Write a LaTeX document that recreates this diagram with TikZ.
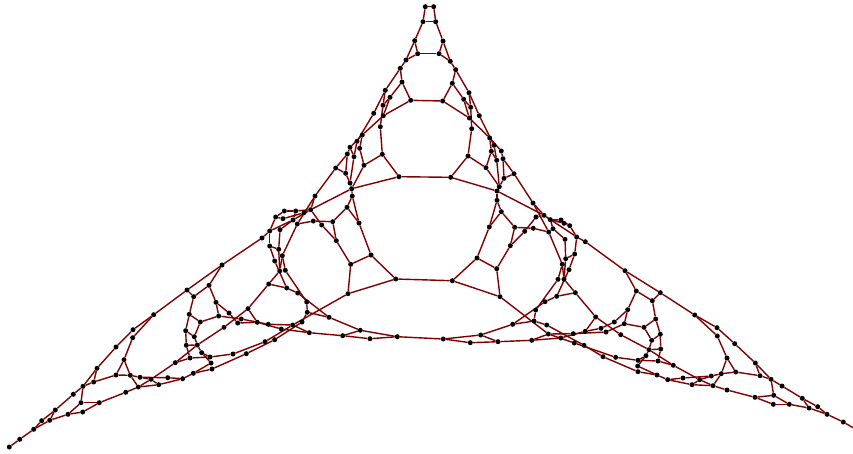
\documentclass[tikz,border=0pt]{standalone}
\pgfdeclarelayer{edgelayer}
\pgfsetlayers{edgelayer,main}
\definecolor{edgered}{RGB}{128,0,0}
\tikzset{pt/.style={circle,fill=black,draw=none,inner sep=0pt,minimum size=5pt},
 link/.style={draw=edgered,line width=1.4pt}}
\begin{document}
\begin{tikzpicture}[x=1pt,y=-1pt]
\useasboundingbox (0,0) rectangle (853,453);
\foreach \n/\x/\y in {t1/425.3/6.7,t2/433.7/6.7,t3/423/21.7,t4/435.7/21.7,t5/414.7/40.7,t6/443/41,t7/417.7/53.7,t8/439/53.7,t9/406/60,t10/450.3/61.3,t11/400.3/68.3,t12/455.7/69.7,t13/402/82,t14/452.3/83.3,t15/410.7/100.3,t16/442.7/101,t17/385.3/90.3,t18/469/92.7,t19/390/97.3,t20/463.7/99.3,t21/383/105.3,t22/470.7/107.3,t23/373.7/113.3,t24/479.3/115.7,t25/383.3/115.7,t26/469.3/118,t27/380.3/126.7,t28/471.7/128.7,t29/362.3/135,t30/489.7/138,t31/357/141.3,t32/494/145.3,t33/350/147.3,t34/359.7/148.3,t35/501.3/151,t36/491.3/151.3,t37/347.3/154,t38/354/156.7,t39/382.3/154.3,t40/468/156,t41/496.7/160.3,t42/503/158.7,t43/364/165.3,t44/486/167.7,t45/335.7/168,t46/345.7/173.3,t47/514/173.7,t48/504/178.3,t49/399/176.7,t50/450.7/177.3,t51/350/183,t52/351.7/188.7,t54/499.3/186.7,
a1/315/196,a2/352.3/196,a3/347/207.3,a4/359/223,a5/310.7/209.7,a6/304/212.7,a7/295.7/211,a8/284.3/211,a9/275.7/217,a10/283/218.7,a11/293/220,a12/297.3/224,a13/313.3/221,a14/321.7/225,a15/332.7/221.7,a16/269.7/231,a17/280/229.7,a18/262/238,a19/336.3/240.7,a20/269.7/246,a21/278.7/249.3,a22/282.3/255.7,a23/274.7/261,a24/371/255,a25/350.7/264.3,a26/279.7/271,a27/285.3/270.3,a28/395.7/279,a29/268.7/284,a30/286.7/288,a31/348/293.7,a32/297.7/293,a33/306.7/302,a34/307.3/312.3,a35/329/317.3,a36/302/322,a37/292.7/325,a38/257.3/322.3,a39/268.3/324.3,a40/281.3/329,a41/360.3/330.3,a42/309.3/332.7,a43/342.7/335.7,a44/397.3/336.7,a45/370/338.7,a46/274.7/339.7,a47/265/341.7,
b1/497/191,b2/497/200.3,b3/501.3/211.7,b4/489.3/227,b5/533/203,b6/536/217,b7/544/215.3,b8/550.3/219.7,b9/561/220,b10/564/223.3,b11/569.7/225.7,b12/553/228.7,b13/548.7/232,b14/533.3/228.3,b15/524.7/231.3,b16/514.7/227.3,b17/510.3/245.7,b18/565/239.3,b19/576.7/237,b20/585.3/241.7,b21/574.7/254,b22/565.7/258.7,b23/562.3/264.3,b24/477/258,b25/496.7/268.7,b26/569/269.7,b27/558/279.3,b28/564/279.3,b29/452.3/280.7,b30/575.3/292.7,b31/556.7/296.3,b32/500/296.7,b33/545/301.7,b34/535.7/310,b35/595.7/317,b36/534/321,b37/512.7/324.3,b38/546.7/325,b39/601/328.3,b40/606/332,b41/585.3/331.3,b42/573.3/333.7,b43/548.3/334,b44/480.7/335,b45/560.7/338,b46/531.7/340.3,b47/498/341.7,b48/443.3/339,b49/470.3/342.7,b50/574.3/343,b51/584/345.3,
c1/209/285.3,c2/187/290,c3/193.7/296.7,c4/216/302.3,c5/153.7/314.7,c6/189.3/314.3,c7/218.7/316,c8/200.3/322,c9/229/313,c10/248/308.7,c11/241.3/319,c12/237.7/323,c13/224/327.3,c14/185.7/330.7,c15/194.3/336.7,c16/186.3/345.3,c17/197.3/345,c18/201.7/352.7,c19/190/358,c20/210/357,c21/233/354,c22/246.3/353.7,c23/211/363,c24/175.3/362.7,c25/212/369,c26/193.3/373.3,c27/167.7/377.7,c28/182.7/378.7,c29/151/379.3,c30/140/377.3,c31/130.3/375.3,c32/158.7/384.7,c33/138.3/387,c34/133/329.7,c35/132.7/337.7,g1/222/265,
d1/9.3/447,d2/19.7/439.3,d3/33.7/429.3,d4/41.7/420.7,d5/49.7/420.3,d6/55.3/410,d7/68/414.3,d8/82.7/412,d9/81/402.7,d10/99.3/402.7,d11/73.3/394.3,d12/83/386.3,d13/93.7/382,d14/97/368.3,d15/116/375,d16/124/359.7,d17/116/347,d18/125.7/392.3,
e1/625/270.7,e2/636.3/291,e3/660.3/292.7,e4/652.3/300.7,e5/694.7/315,e6/627.7/309.7,e7/655.7/319,e8/614.3/322,e9/624.3/323.7,e10/644/327.3,e11/717/327.7,e12/660.3/334.3,e13/620.7/334.7,e14/717.3/336,e15/651.7/340.3,e16/649/349.7,e17/660.7/349,e18/727/358,e19/646/355.7,e20/603/356.7,e21/615.7/357.3,e22/638/360.3,e23/658/361,e24/637.7/366,e25/673.3/365.3,e26/638/371.7,e27/721.3/373.7,e28/711.3/376,e29/657/375,e30/683/378,e31/699.7/379.7,e32/667.7/379.7,e33/692/384.7,e34/713/385.7,e35/727/390,
f1/734.7/343.7,f2/755.3/363,f3/735.7/372,f4/760/375.7,f5/771/379.3,f6/782/386,f7/773.7/395.3,f8/755/397.3,f9/802.3/398.3,f10/773.3/404.3,f11/789.3/404.3,f12/817.7/406.7,f13/809/408,f14/827/414.3,f15/843.3/422}
 \node[pt] (\n) at (\x,\y) {};
\coordinate (fend) at (853,427.7);
\begin{pgfonlayer}{edgelayer}
\foreach \a/\b in {t1/t2,t1/t3,t2/t4,t3/t4,t3/t5,t4/t6,t5/t7,t6/t8,t7/t8,t5/t9,t6/t10,t7/t9,t8/t10,t9/t11,t10/t12,t11/t13,t12/t14,t13/t15,t14/t16,t15/t16,t11/t17,t12/t18,t13/t19,t14/t20,t17/t21,t18/t22,t17/t23,t18/t24,t19/t25,t20/t26,t19/t21,t20/t22,t15/t25,t16/t26,t21/t27,t22/t28,t25/t29,t26/t30,t23/t31,t24/t32,t29/t33,t30/t35,t29/t34,t30/t36,t31/t38,t32/t41,t33/t37,t35/t42,t33/t38,t36/t41,t37/t45,t42/t47,t37/t46,t42/t48,t45/t46,t47/t48,t46/t51,t48/t54,t38/t51,t41/t54,t34/t43,t36/t44,t39/t43,t40/t44,t27/t39,t28/t40,t39/t49,t40/t50,t49/t50,t49/t52,t50/b1,t43/t52,t44/t54,
t45/a1,t47/b5,t51/t52,t54/b1,t52/a2,b1/b2,t52/a5,b1/b7,a2/a3,a2/a4,a3/a4,a3/a15,a4/a24,b2/b3,b2/b4,b3/b4,b3/b16,b4/b24,
a1/a12,a1/a5,a5/a14,a14/a19,a15/a19,a13/a15,a12/a13,a5/a7,a7/a8,a8/a9,a9/a10,a10/a6,a11/a7,a5/a11,a11/a16,a16/a18,a9/a16,a17/a11,a17/a21,a16/a20,a20/a21,a20/a23,a21/a26,a22/a12,a22/a26,a22/a27,a23/a30,a26/a29,a27/a33,a29/a30,a30/a32,a32/a35,a33/a34,a34/a35,a34/a36,a19/a25,a24/a25,a24/a28,a25/a31,a28/a31,a28/b29,a31/a37,a37/a47,a36/a46,
b5/b13,b5/b7,b7/b6,b6/b15,b15/b17,b16/b17,b14/b16,b13/b14,b13/b12,b7/b8,b8/b9,b9/b11,b12/b8,b12/b18,b10/b8,b11/b10,b7/b19,b19/b20,b19/b11,b19/b21,b18/b22,b21/b22,b21/b26,b22/b28,b13/b23,b23/b28,b23/b27,b28/b30,b26/b31,b27/b34,b30/b31,b31/b33,b33/b37,b34/b36,b36/b37,b36/b38,b17/b25,b24/b25,b24/b29,b25/b32,b29/b32,b32/b43,b43/b50,b38/b51,
a42/a37,a39/a37,c12/a38,c11/a39,c10/a38,a38/a40,a40/a42,a42/a43,a43/a41,a43/a45,a45/a44,a35/a41,a41/a44,a44/b48,b48/b49,b49/b47,b48/b44,b44/b47,b44/b37,b47/b46,b46/b45,b45/b41,b46/b43,b43/b42,b42/b40,
e1/b20,e1/e3,e1/e2,e2/e4,e3/e4,e3/e5,e4/e7,e7/e10,e7/e12,e2/e6,e6/e8,e6/e9,e9/e10,e9/b40,e8/b39,b39/b41,b35/b41,b35/b30,b35/e13,e13/e16,e10/e15,e12/e15,e12/e17,e15/e16,e17/e16,e16/e19,e17/e23,e19/e22,e23/e22,e22/e21,e21/b50,e20/b51,e20/e26,e26/e29,e19/e24,e24/e29,e16/e25,e25/e23,e25/e31,e31/e34,e34/e35,e35/f8,e31/e33,e31/e28,e32/e33,e33/e34,e29/e32,e32/e30,e30/e28,e28/e27,e27/e34,e27/f3,e27/e18,e18/f3,e18/e14,e14/e5,e5/e11,e11/f1,
f1/f2,f2/f4,f2/f5,f3/f4,f4/f5,f5/f6,f6/f9,f9/f12,f12/f14,f14/f15,f15/fend,f9/f13,f13/f14,f5/f7,f7/f8,f7/f11,f8/f10,f10/f11,f11/f13,
a18/g1,g1/c2,g1/c1,c2/c3,c3/c1,c1/c4,c4/c7,c4/c9,c9/c12,c7/c11,c7/c8,c6/c3,c6/c8,c6/c14,c14/c15,c8/c15,c15/c17,c14/c16,c16/c17,c16/c19,c17/c18,c18/c20,c18/c23,c19/c20,c20/c21,c21/a47,c22/a46,c25/c22,c23/c26,c25/c26,a29/c10,c10/c13,c13/c17,c17/c24,c24/c29,c24/c19,c29/c33,c33/d18,d18/d10,c5/c2,c5/c34,c5/c35,c34/d17,c35/d16,
c26/c28,c28/c32,c28/c27,c27/c30,c29/c30,c32/c29,c33/c32,c31/c30,c31/c33,
d1/d2,d2/d3,d3/d4,d4/d6,d3/d5,d5/d6,d5/d7,d6/d11,d7/d8,d7/d9,d8/d10,d9/d10,d9/d12,d11/d12,d12/d13,d12/d14,d13/d14,d13/d15,d14/d17,d15/d16,d16/c31,d15/c31}
 \draw[link] (\a) -- (\b);
\end{pgfonlayer}
\end{tikzpicture}
\end{document}
